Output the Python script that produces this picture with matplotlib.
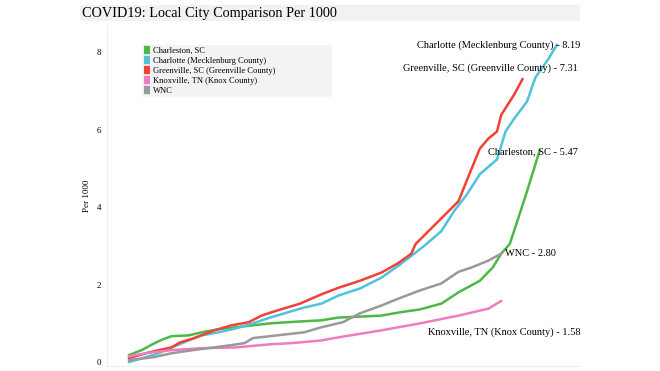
import matplotlib.pyplot as plt
from matplotlib.patches import Rectangle
import matplotlib.transforms as mtransforms

plt.rcParams['font.family'] = ['Liberation Serif', 'DejaVu Serif']

# days since start / cases per 1000
charleston_days = [0, 3, 6, 8, 10, 14, 17, 21, 25, 29, 33, 37, 45, 49, 59, 63, 68, 73, 77, 82, 85, 87, 89, 91, 93, 96]
charleston_vals = [0.18, 0.31, 0.49, 0.59, 0.67, 0.69, 0.77, 0.85, 0.90, 0.95, 1.00, 1.03, 1.08, 1.15, 1.20,
                   1.28, 1.36, 1.51, 1.80, 2.10, 2.44, 2.80, 3.05, 3.72, 4.40, 5.47]

charlotte_days = [0, 4, 7, 10, 14, 17, 21, 25, 29, 33, 37, 41, 45, 49, 54, 59, 63, 66, 69, 73, 76, 79, 82, 86,
                  88, 90, 93, 95, 98, 100]
charlotte_vals = [0.0, 0.13, 0.23, 0.38, 0.56, 0.69, 0.77, 0.87, 1.0, 1.15, 1.28, 1.41, 1.51, 1.72, 1.9, 2.18,
                  2.49, 2.74, 3.0, 3.38, 3.9, 4.33, 4.85, 5.23, 5.95, 6.28, 6.72, 7.35, 7.82, 8.19]

greenville_days = [0, 4, 7, 10, 12, 15, 20, 24, 28, 31, 34, 37, 40, 45, 49, 54, 59, 63, 66, 67, 70, 74, 77, 79,
                   82, 84, 86, 87, 90, 92]
greenville_vals = [0.1, 0.23, 0.31, 0.38, 0.51, 0.61, 0.82, 0.95, 1.03, 1.2, 1.31, 1.41, 1.51, 1.75, 1.92, 2.1,
                   2.31, 2.56, 2.8, 3.05, 3.38, 3.82, 4.15, 4.7, 5.51, 5.77, 5.95, 6.38, 6.9, 7.31]

knoxville_days = [0, 4, 10, 17, 25, 33, 38, 45, 49, 59, 68, 77, 84, 87]
knoxville_vals = [0.15, 0.23, 0.31, 0.36, 0.38, 0.46, 0.49, 0.56, 0.64, 0.82, 1.0, 1.2, 1.38, 1.58]

wnc_days = [0, 6, 10, 15, 20, 24, 27, 29, 33, 37, 41, 45, 50, 54, 59, 63, 68, 73, 75, 77, 80, 84, 87]
wnc_vals = [0.05, 0.13, 0.23, 0.31, 0.38, 0.44, 0.49, 0.62, 0.67, 0.72, 0.77, 0.9, 1.03, 1.26, 1.46, 1.64,
            1.85, 2.03, 2.18, 2.33, 2.44, 2.62, 2.80]

names = ["Charleston, SC", "Charlotte (Mecklenburg County)", "Greenville, SC (Greenville County)",
         "Knoxville, TN (Knox County)", "WNC"]
colors = ["#4db848", "#4fc3da", "#ef4136", "#f07cc0", "#999999"]
series = [(charleston_days, charleston_vals), (charlotte_days, charlotte_vals),
          (greenville_days, greenville_vals), (knoxville_days, knoxville_vals), (wnc_days, wnc_vals)]

fig = plt.figure(figsize=(6.6, 3.71), dpi=100)
ax = fig.add_axes([107/660, 1 - 366/371, (580-107)/660, (366-25)/371])

for (d, v), name, c in zip(series, names, colors):
    ax.plot(d, v, color=c, linewidth=1.8, label=name, solid_capstyle='round', solid_joinstyle='round')

ax.set_xlim(-5.1, 105.4)
ax.set_ylim(-0.1, 8.7)
ax.set_yticks([0, 2, 4, 6, 8])
ax.set_xticks([])
ax.tick_params(axis='y', length=0, labelsize=6.5, pad=4)
ax.set_ylabel("Per 1000", fontsize=6.5, labelpad=4)
for s in ['top', 'right']:
    ax.spines[s].set_visible(False)
ax.spines['left'].set_color('#eeeeee')
ax.spines['bottom'].set_color('#eeeeee')

# end labels
trans = mtransforms.blended_transform_factory(ax.transAxes, ax.transData)
fs = 7.5
ax.text(1.0, charlotte_vals[-1], f"{names[1]} - {charlotte_vals[-1]:.2f}", transform=trans,
        ha='right', va='center', fontsize=fs)
ax.text(0.995, greenville_vals[-1] + 0.28, f"{names[2]} - {greenville_vals[-1]:.2f}", transform=trans,
        ha='right', va='center', fontsize=fs)
ax.text(0.995, charleston_vals[-1] - 0.05, f"{names[0]} - {charleston_vals[-1]:.2f}", transform=trans,
        ha='right', va='center', fontsize=fs)
ax.text(wnc_days[-1] + 0.8, wnc_vals[-1], f"{names[4]} - {wnc_vals[-1]:.2f}",
        ha='left', va='center', fontsize=fs)
ax.text(1.0, knoxville_vals[-1] - 0.82, f"{names[3]} - {knoxville_vals[-1]:.2f}", transform=trans,
        ha='right', va='center', fontsize=fs)

# legend box, stretched to the width of the grey band
leg = ax.legend(loc='upper left', bbox_to_anchor=((142-107)/473, 0.80, 190/473, (366-45)/341 - 0.80),
                mode='expand', fontsize=6.1,
                handlelength=0.8, handleheight=0.8, handletextpad=0.3, labelspacing=0.22,
                frameon=True, fancybox=False, borderpad=0.2, borderaxespad=0)
leg.get_frame().set_facecolor('#f3f3f3')
leg.get_frame().set_edgecolor('none')
leg.get_frame().set_alpha(1)
for h in leg.legend_handles:
    h.set_linewidth(6)
    h.set_solid_capstyle('butt')

# title band
fig.patches.append(Rectangle((80/660, 1 - 21/371), 500/660, 16/371, transform=fig.transFigure,
                             facecolor='#f2f2f2', edgecolor='none', zorder=0))
fig.text(82/660, 1 - 13/371, "COVID19: Local City Comparison Per 1000", fontsize=10.3,
         ha='left', va='center')

fig.savefig("out.png", dpi=100)
